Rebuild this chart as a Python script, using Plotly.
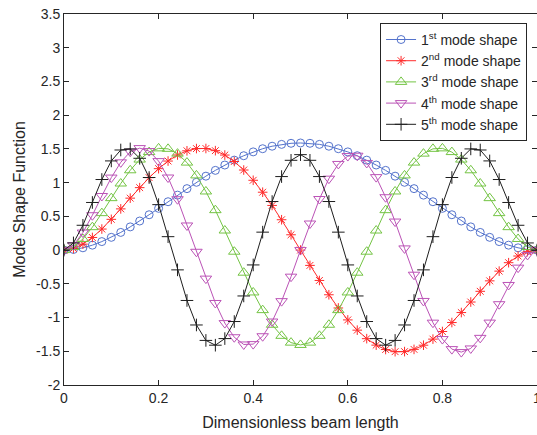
import plotly.graph_objects as go

x = [0.00, 0.02, 0.04, 0.06, 0.08, 0.10, 0.12, 0.14, 0.16, 0.18,
     0.20, 0.22, 0.24, 0.26, 0.28, 0.30, 0.32, 0.34, 0.36, 0.38,
     0.40, 0.42, 0.44, 0.46, 0.48, 0.50, 0.52, 0.54, 0.56, 0.58,
     0.60, 0.62, 0.64, 0.66, 0.68, 0.70, 0.72, 0.74, 0.76, 0.78,
     0.80, 0.82, 0.84, 0.86, 0.88, 0.90, 0.92, 0.94, 0.96, 0.98, 1.00]

mode1 = [0, 0.009, 0.034, 0.073, 0.126, 0.189, 0.262, 0.344, 0.431, 0.524,
         0.619, 0.717, 0.815, 0.911, 1.005, 1.096, 1.182, 1.261, 1.334, 1.399,
         1.456, 1.503, 1.540, 1.567, 1.583, 1.588, 1.583, 1.567, 1.540, 1.503,
         1.456, 1.399, 1.334, 1.261, 1.182, 1.096, 1.005, 0.911, 0.815, 0.717,
         0.619, 0.524, 0.431, 0.344, 0.262, 0.189, 0.126, 0.073, 0.034, 0.009, 0]

mode2 = [0, 0.023, 0.088, 0.187, 0.312, 0.456, 0.611, 0.770, 0.926, 1.074,
         1.207, 1.320, 1.410, 1.472, 1.505, 1.506, 1.474, 1.409, 1.313, 1.187,
         1.035, 0.858, 0.662, 0.450, 0.227, 0, -0.227, -0.450, -0.662, -0.858,
         -1.035, -1.187, -1.313, -1.409, -1.474, -1.506, -1.505, -1.472, -1.410, -1.320,
         -1.207, -1.074, -0.926, -0.770, -0.611, -0.456, -0.312, -0.187, -0.088, -0.023, 0]

mode3 = [0, 0.045, 0.165, 0.340, 0.548, 0.770, 0.987, 1.183, 1.342, 1.453,
         1.508, 1.501, 1.430, 1.297, 1.107, 0.869, 0.592, 0.290, -0.024, -0.335,
         -0.628, -0.890, -1.107, -1.271, -1.372, -1.406, -1.372, -1.271, -1.107, -0.890,
         -0.628, -0.335, -0.024, 0.290, 0.592, 0.869, 1.107, 1.297, 1.430, 1.501,
         1.508, 1.453, 1.342, 1.183, 0.987, 0.770, 0.548, 0.340, 0.165, 0.045, 0]

mode4 = [0, 0.072, 0.260, 0.517, 0.802, 1.075, 1.301, 1.458, 1.512, 1.468,
         1.319, 1.076, 0.754, 0.365, -0.025, -0.423, -0.784, -1.082, -1.292, -1.399,
         -1.394, -1.277, -1.059, -0.757, -0.394, 0, 0.394, 0.757, 1.059, 1.277,
         1.394, 1.399, 1.292, 1.082, 0.784, 0.423, 0.025, -0.365, -0.754, -1.076,
         -1.319, -1.468, -1.512, -1.458, -1.301, -1.075, -0.802, -0.517, -0.260, -0.072, 0]

mode5 = [0, 0.106, 0.368, 0.706, 1.046, 1.322, 1.484, 1.500, 1.361, 1.076,
         0.674, 0.199, -0.293, -0.747, -1.110, -1.339, -1.410, -1.312, -1.059, -0.680,
         -0.220, 0.266, 0.720, 1.090, 1.331, 1.415, 1.331, 1.090, 0.720, 0.266,
         -0.220, -0.680, -1.059, -1.312, -1.410, -1.339, -1.110, -0.747, -0.293, 0.199,
         0.674, 1.076, 1.361, 1.500, 1.484, 1.322, 1.046, 0.706, 0.368, 0.106, 0]

names = ["1<sup>st</sup> mode shape", "2<sup>nd</sup> mode shape",
         "3<sup>rd</sup> mode shape", "4<sup>th</sup> mode shape",
         "5<sup>th</sup> mode shape"]
series = [mode1, mode2, mode3, mode4, mode5]
colors = ["#5473cc", "#ff2b2b", "#74c444", "#bb52b6", "#1e1e1e"]
symbols = ["circle-open", "asterisk-open", "triangle-up-open",
           "triangle-down-open", "cross-thin-open"]
sizes = [8, 8, 10, 10, 9]

xticks = [0, 0.2, 0.4, 0.6, 0.8, 1]
xticklabels = ["0", "0.2", "0.4", "0.6", "0.8", "1"]
yticks = [-2, -1.5, -1, -0.5, 0, 0.5, 1, 1.5, 2, 2.5, 3, 3.5]
yticklabels = ["-2", "-1.5", "-1", "-0.5", "0", "0.5", "1", "1.5", "2", "2.5", "3", "3.5"]

FONT = "Liberation Sans, Arial, sans-serif"

fig = go.Figure()
for nm, ys, c, s, sz in zip(names, series, colors, symbols, sizes):
    fig.add_trace(go.Scatter(
        x=x, y=ys, name=nm, mode="lines+markers",
        line=dict(color=c, width=1),
        marker=dict(symbol=s, size=sz, color=c, line=dict(color=c, width=1)),
    ))

axis_common = dict(
    showline=True, linecolor="#262626", linewidth=1, mirror="allticks",
    ticks="inside", ticklen=5, tickcolor="#262626", tickwidth=1,
    showgrid=False, zeroline=False, ticklabeloverflow="allow", automargin=False,
    tickfont=dict(family=FONT, size=14, color="#262626"),
)

fig.update_layout(
    width=537, height=435,
    margin=dict(l=64, r=0, t=14, b=50),
    paper_bgcolor="white", plot_bgcolor="white",
    font=dict(family=FONT, size=14, color="#262626"),
    xaxis=dict(range=[0, 1], tickvals=xticks, ticktext=xticklabels,
               title=dict(text="Dimensionless beam length", font=dict(size=16), standoff=12),
               **axis_common),
    yaxis=dict(range=[-2, 3.5], tickvals=yticks, ticktext=yticklabels,
               title=dict(text="Mode Shape Function", font=dict(size=16), standoff=6),
               **axis_common),
    legend=dict(x=0.979, xanchor="right", y=0.976, yanchor="top",
                bgcolor="white", bordercolor="#262626", borderwidth=1,
                font=dict(size=14, color="#262626"), tracegroupgap=0),
    showlegend=True,
)

fig.write_html("out.html")
